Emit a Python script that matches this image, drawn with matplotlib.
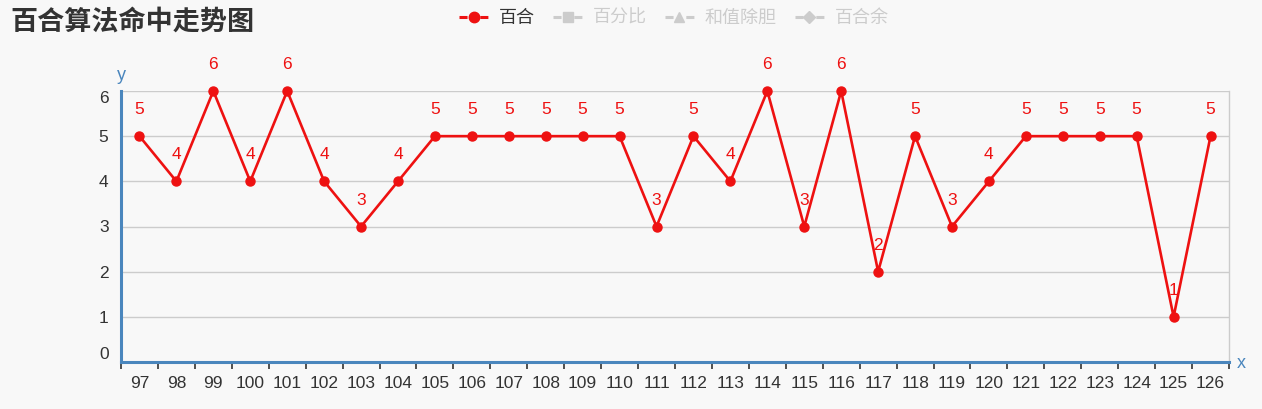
import matplotlib
matplotlib.use("Agg")
import matplotlib.pyplot as plt
from matplotlib.lines import Line2D
import numpy as np

plt.rcParams['font.family'] = ['Liberation Sans', 'Noto Sans CJK SC', 'DejaVu Sans']
plt.rcParams['lines.scale_dashes'] = False

# data
periods = [str(p) for p in range(97, 127)]
baihe = [5, 4, 6, 4, 6, 4, 3, 4, 5, 5, 5, 5, 5, 5, 3, 5, 4, 6, 3, 6, 2, 5, 3, 4, 5, 5, 5, 5, 1, 5]
y_ticks = [0, 1, 2, 3, 4, 5, 6]
legend_names = ["百合", "百分比", "和值除胆", "百合余"]

BG = "#f8f8f8"
RED = "#ee1111"
AXIS = "#4a86bd"
GREY = "#cccccc"

fig = plt.figure(figsize=(12.62, 4.09), dpi=100, facecolor=BG)
ax = fig.add_axes([121/1262, 47/409, 1108/1262, 271/409])
ax.set_facecolor(BG)

x = np.arange(len(periods))
ax.plot(x, baihe, color=RED, lw=1.9, marker="o", ms=6.5, zorder=3, clip_on=False)
for xi, v in zip(x, baihe):
    ax.annotate(str(v), (xi, v), xytext=(0, 19), textcoords="offset points",
                ha="center", va="center", color=RED, fontsize=12.5)

ax.set_xlim(-0.5, len(periods) - 0.5)
ax.set_ylim(0, 6)

ax.set_xticks(x)
ax.set_xticklabels(periods)
ax.set_xticks(np.arange(len(periods) + 1) - 0.5, minor=True)
ax.tick_params(axis="x", which="major", length=0, pad=10, labelsize=12.5, labelcolor="#333333")
ax.tick_params(axis="x", which="minor", length=5, width=1.2, color="#333333")

ax.set_yticks(y_ticks)
ax.tick_params(axis="y", length=0, pad=9, labelsize=12.5, labelcolor="#333333")
labels = ax.get_yticklabels()
labels[0].set_va("bottom")
labels[-1].set_va("top")

ax.grid(axis="y", color=GREY, lw=1)
ax.set_axisbelow(True)
for s in ["left", "bottom"]:
    ax.spines[s].set_color(AXIS)
    ax.spines[s].set_linewidth(2.2)
ax.spines["top"].set_visible(False)
ax.spines["right"].set_color(GREY)
ax.spines["right"].set_linewidth(1)

fig.text(121/1262, 1 - 75/409, "y", color=AXIS, fontsize=13, ha="center", va="center")
fig.text(1241/1262, 1 - 363/409, "x", color=AXIS, fontsize=13, ha="center", va="center")

fig.text(10/1262, 1 - 22/409, "百合算法命中走势图", fontsize=19.5, fontweight="bold",
         color="#333333", ha="left", va="center", family=["Noto Sans CJK SC"])

markers = ["o", "s", "^", "D"]
colors = [RED, GREY, GREY, GREY]
handles = [Line2D([], [], color=c, marker=m, ms=7.5 if m == "o" else 6.5, lw=2.2,
                  linestyle=(0, (5.8, 9.2)))
           for c, m in zip(colors, markers)]
leg = fig.legend(handles, legend_names, loc="center", bbox_to_anchor=(674/1262, 1 - 18/409),
                 ncol=4, frameon=False, handlelength=1.6, columnspacing=1.0,
                 handletextpad=0.6, prop={"family": ["Noto Sans CJK SC"], "size": 13})
for t, c in zip(leg.get_texts(), ["#333333", GREY, GREY, GREY]):
    t.set_color(c)

fig.savefig("out.png", dpi=100, facecolor=BG)
